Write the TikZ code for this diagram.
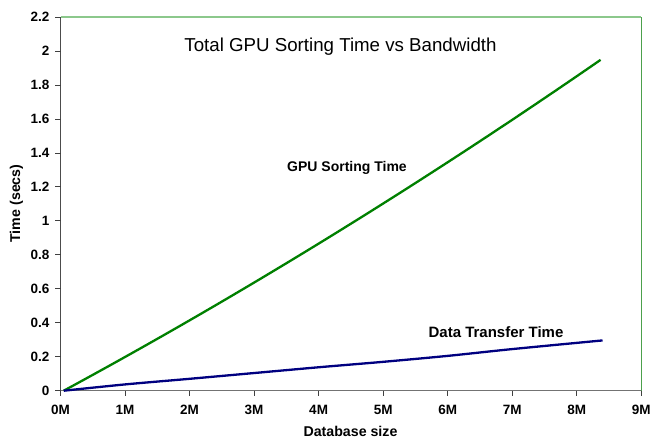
\documentclass[tikz,border=0pt]{standalone}
\usepackage{fontspec}
\setmainfont{Liberation Sans}
\begin{document}
\begin{tikzpicture}[x=1pt,y=-1pt,
  ticklbl/.style={font=\bfseries\fontsize{13.5}{15}\selectfont, inner sep=0pt},
  axlbl/.style={font=\bfseries\fontsize{14.2}{16}\selectfont, inner sep=0pt},
  serieslbl/.style={font=\bfseries\fontsize{14}{16}\selectfont, inner sep=0pt},
  titlelbl/.style={font=\fontsize{18.7}{21}\selectfont, inner sep=0pt},
  tickln/.style={draw=black!75, line width=0.8pt}]
\useasboundingbox[fill=white] (0,0) rectangle (651,439);
\definecolor{sortgreen}{HTML}{008000}
\definecolor{xfernavy}{HTML}{000080}
\definecolor{frameltgreen}{HTML}{8CC88C}
\definecolor{framegreen}{HTML}{4CA04C}
% plot area frame
\coordinate (tl) at (60.5,17);
\coordinate (tr) at (641.3,17);
\coordinate (bl) at (60.5,390.7);
\coordinate (br) at (641.3,390.7);
\draw[frameltgreen, line width=1.2pt] (tl) -- (tr);
\draw[framegreen, line width=1pt] (tr) -- (br);
\draw[black!70, line width=1pt] (tl) -- (bl);
\draw[black!55, line width=1.2pt] (bl) -- (br);
% data area: 1 unit = 1M horizontally, 1 sec vertically
\begin{scope}[shift={(60.5,390.7)}, x=64.53pt, y=169.86pt]
  \foreach \i/\t in {0/0,1/0.2,2/0.4,3/0.6,4/0.8,5/1,6/1.2,7/1.4,8/1.6,9/1.8,10/2,11/2.2}{
    \coordinate (yt\i) at (0,\i*0.2);
    \draw[tickln] (yt\i) -- ++(-5.5pt,0);
    \node[ticklbl, anchor=east] (ylab\i) at ([xshift=-11pt]yt\i) {\t};
  }
  \foreach \m in {0,...,9}{
    \coordinate (xt\m) at (\m,0);
    \draw[tickln] (xt\m) -- ++(0,-5.5pt);
    \node[ticklbl] (xlab\m) at ([yshift=-19.5pt]xt\m) {\m M};
  }
  % series
  \draw[sortgreen, line width=2.3pt, line join=round]
    plot[domain=0.05:8.37, samples=60, smooth] (\x, {0.2057*(\x-0.05)+0.00342*(\x-0.05)*(\x-0.05)});
  \draw[xfernavy, line width=2.3pt, line join=round]
    plot[smooth] coordinates {(0.05,0) (1,0.037) (2,0.07) (3,0.104) (4,0.138) (5,0.17) (6,0.205) (7,0.245) (8.4,0.296)};
\end{scope}
% labels
\node[titlelbl] (title) at (340.5,47) {Total GPU Sorting Time vs Bandwidth};
\node[serieslbl] (sortlbl) at (347,168) {GPU Sorting Time};
\node[serieslbl, font=\bfseries\fontsize{15}{17}\selectfont] (xferlbl) at (496,332) {Data Transfer Time};
\node[axlbl, rotate=90] (ylbl) at (16.5,203.5) {Time (secs)};
\node[axlbl] (xlbl) at (350.5,431) {Database size};
\end{tikzpicture}
\end{document}
